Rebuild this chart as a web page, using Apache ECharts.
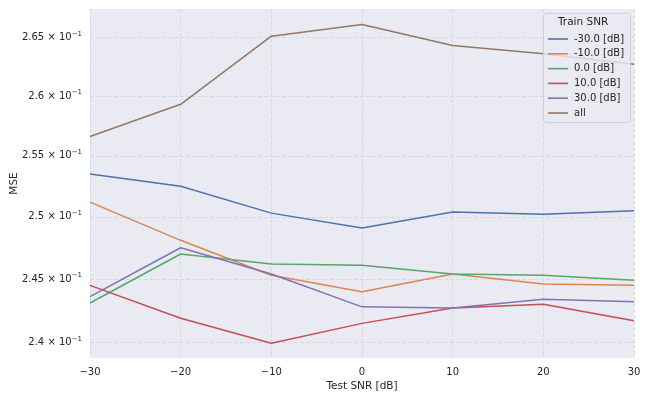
<!DOCTYPE html>
<html>
<head>
<meta charset="utf-8">
<script src="https://cdn.jsdelivr.net/npm/echarts@6/dist/echarts.min.js"></script>
<style>html,body{margin:0;padding:0;background:#fff}#c{width:649px;height:403px}</style>
</head>
<body>
<div id="c"></div>
<script>
const testSNR = [-30, -20, -10, 0, 10, 20, 30];
const seriesNames = ['-30.0 [dB]', '-10.0 [dB]', '0.0 [dB]', '10.0 [dB]', '30.0 [dB]', 'all'];
const mseTrainM30 = [0.2535, 0.2525, 0.2503, 0.2491, 0.2504, 0.2502, 0.2505];
const mseTrainM10 = [0.2512, 0.2481, 0.2453, 0.2440, 0.2454, 0.2446, 0.2445];
const mseTrain0   = [0.2431, 0.2470, 0.2462, 0.2461, 0.2454, 0.2453, 0.2449];
const mseTrain10  = [0.2445, 0.2419, 0.23995, 0.2415, 0.2427, 0.2430, 0.2417];
const mseTrain30  = [0.2436, 0.2475, 0.2454, 0.2428, 0.2427, 0.2434, 0.2432];
const mseAll      = [0.2566, 0.2593, 0.2651, 0.2661, 0.2643, 0.2636, 0.2627];
const yTicks = [0.24, 0.245, 0.25, 0.255, 0.26, 0.265];
const yTickMantissa = ['2.4', '2.45', '2.5', '2.55', '2.6', '2.65'];
const yMin = 0.2388, yMax = 0.26745;
const xTicks = [-30, -20, -10, 0, 10, 20, 30];
const colors = ['#4C72B0', '#DD8452', '#55A868', '#C44E52', '#8172B3', '#937860'];

const allSeries = [mseTrainM30, mseTrainM10, mseTrain0, mseTrain10, mseTrain30, mseAll];
const tickLogs = yTicks.map(Math.log10);

const chart = echarts.init(document.getElementById('c'), null, {renderer: 'canvas'});
const font = 'DejaVu Sans';
chart.setOption({
  animation: false,
  backgroundColor: '#ffffff',
  color: colors,
  grid: {left: 90, right: 15, top: 9, bottom: 45, show: true, backgroundColor: '#EAEAF2', borderWidth: 0,
    containLabel: false, outerBoundsMode: 'none'},
  xAxis: {
    type: 'value', min: -30, max: 30, interval: 10,
    name: 'Test SNR [dB]', nameLocation: 'middle', nameGap: 23, nameMoveOverlap: false,
    nameTextStyle: {fontFamily: font, fontSize: 10.5, color: '#262626'},
    axisLine: {show: false}, axisTick: {show: false},
    axisLabel: {fontFamily: font, fontSize: 10, color: '#262626', margin: 9,
      formatter: v => (v < 0 ? '\u2212' + (-v) : String(v))},
    splitLine: {show: true, lineStyle: {color: '#d3d3d9', type: [4, 2], width: 0.8}}
  },
  yAxis: {
    type: 'value', min: Math.log10(yMin), max: Math.log10(yMax),
    name: 'MSE', nameLocation: 'middle', nameGap: 70, nameMoveOverlap: false,
    nameTextStyle: {fontFamily: font, fontSize: 10.5, color: '#262626'},
    axisLine: {show: false},
    axisTick: {show: false, customValues: tickLogs},
    axisLabel: {
      customValues: tickLogs, margin: 8,
      formatter: v => {
        let best = 0, bd = 1e9;
        tickLogs.forEach((t, i) => { const d = Math.abs(t - v); if (d < bd) { bd = d; best = i; } });
        return '{m|' + yTickMantissa[best] + ' \u00d7 10}{s|\u22121}';
      },
      rich: {
        m: {fontFamily: font, fontSize: 10, color: '#262626', lineHeight: 14},
        s: {fontFamily: font, fontSize: 7, color: '#262626', verticalAlign: 'top', lineHeight: 14, padding: [0, 0, 5, 0]}
      }
    },
    splitLine: {show: true, lineStyle: {color: '#d3d3d9', type: [4, 2], width: 0.8}}
  },
  legend: {
    orient: 'vertical', left: 543, top: 28, z: 20,
    itemWidth: 20, itemHeight: 1.6, itemGap: 2.8,
    icon: 'rect',
    textStyle: {fontFamily: font, fontSize: 10, color: '#262626', lineHeight: 12, height: 12, padding: [0, 0, 0, 1]},
    data: seriesNames
  },
  graphic: [
    {type: 'rect', left: 543, top: 13, z: 10,
      shape: {width: 87, height: 109, r: 3},
      style: {fill: 'rgba(234,234,242,0.8)', stroke: '#cfcfd6', lineWidth: 1}},
    {type: 'text', left: 558, top: 17, z: 11,
      style: {text: 'Train SNR', font: '10.5px "DejaVu Sans"', fill: '#262626'}}
  ],
  series: allSeries.map((d, i) => ({
    name: seriesNames[i], type: 'line', showSymbol: false, symbol: 'none',
    lineStyle: {width: 1.5, color: colors[i]},
    itemStyle: {color: colors[i]},
    data: testSNR.map((x, j) => [x, Math.log10(d[j])])
  }))
});
</script>
</body>
</html>
